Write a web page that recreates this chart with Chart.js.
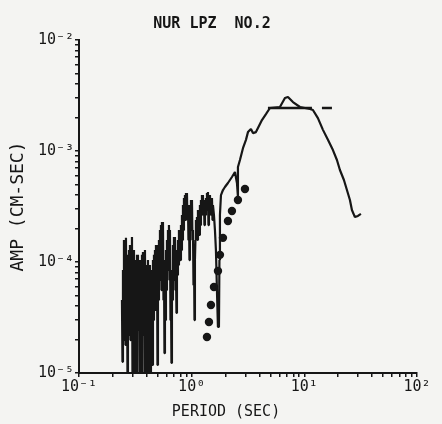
<!DOCTYPE html>
<html>
<head>
<meta charset="utf-8">
<script src="https://cdn.jsdelivr.net/npm/chart.js@4.4.1/dist/chart.umd.min.js"></script>
<style>
  html, body { margin: 0; padding: 0; background: #f4f4f2; }
  #wrap { width: 442px; height: 424px; }
</style>
</head>
<body>
<div id="wrap"><canvas id="amp" width="442" height="424"></canvas></div>
<script>
// spectrum (period in sec, amplitude in cm-sec)
var spectrumPeriod = [
  0.2406, 0.2431, 0.2456, 0.2481, 0.2507, 0.2533, 0.2559, 0.2585, 0.2611, 0.2638,
  0.2665, 0.2692, 0.2720, 0.2748, 0.2777, 0.2806, 0.2834, 0.2863, 0.2892, 0.2922,
  0.2952, 0.2982, 0.3013, 0.3044, 0.3075, 0.3107, 0.3139, 0.3171, 0.3204, 0.3237,
  0.3270, 0.3304, 0.3337, 0.3371, 0.3406, 0.3441, 0.3476, 0.3512, 0.3548, 0.3585,
  0.3621, 0.3658, 0.3696, 0.3734, 0.3772, 0.3811, 0.3850, 0.3890, 0.3930, 0.3970,
  0.4011, 0.4052, 0.4094, 0.4136, 0.4178, 0.4221, 0.4265, 0.4309, 0.4353, 0.4398,
  0.4442, 0.4488, 0.4534, 0.4581, 0.4628, 0.4676, 0.4723, 0.4772, 0.4821, 0.4871,
  0.4920, 0.4971, 0.5022, 0.5074, 0.5125, 0.5178, 0.5231, 0.5285, 0.5339, 0.5394,
  0.5449, 0.5505, 0.5562, 0.5619, 0.5677, 0.5735, 0.5794, 0.5854, 0.5913, 0.5974,
  0.6035, 0.6097, 0.6160, 0.6223, 0.6287, 0.6352, 0.6417, 0.6483, 0.6549, 0.6616,
  0.6684, 0.6753, 0.6822, 0.6892, 0.6963, 0.7035, 0.7107, 0.7180, 0.7253, 0.7328,
  0.7403, 0.7479, 0.7556, 0.7634, 0.7712, 0.7791, 0.7871, 0.7952, 0.8034, 0.8117,
  0.8199, 0.8283, 0.8369, 0.8455, 0.8541, 0.8629, 0.8718, 0.8808, 0.8898, 0.8990,
  0.9081, 0.9175, 0.9269, 0.9364, 0.9460, 0.9557, 0.9655, 0.9754, 0.9855, 0.9957,
  1.006, 1.016, 1.027, 1.038, 1.048, 1.059, 1.069, 1.080, 1.091, 1.102,
  1.114, 1.125, 1.137, 1.149, 1.160, 1.172, 1.184, 1.196, 1.209, 1.221,
  1.234, 1.247, 1.259, 1.272, 1.285, 1.298, 1.312, 1.325, 1.339, 1.353,
  1.367, 1.381, 1.395, 1.409, 1.424, 1.439, 1.453, 1.468, 1.483, 1.498,
  1.514, 1.530, 1.545, 1.577, 1.609, 1.642, 1.676, 1.711, 1.746, 1.764,
  1.782, 1.820, 1.896, 1.974, 2.099, 2.278, 2.422, 2.523, 2.575, 2.575,
  2.683, 2.853, 3.033, 3.160, 3.359, 3.499, 3.720, 3.876, 4.206, 4.563,
  4.952, 6.074, 6.728, 7.154, 7.924, 9.142, 11.21, 11.92, 13.20, 14.63,
  16.20, 17.94, 19.47, 20.70, 22.46, 23.88, 25.39, 26.45, 28.12, 29.90,
  31.78
];
var spectrumAmp = [
  4.55e-5, 1.26e-5, 8.47e-5, 1.98e-5, 1.58e-4, 3.00e-5, 1.28e-4, 1.79e-5, 1.65e-4, 2.44e-5,
  1.16e-4, 1.0e-5, 1.04e-4, 2.20e-5, 1.28e-4, 3.70e-5, 1.42e-4, 1.98e-5, 1.16e-4, 4.55e-5,
  1.68e-4, 1.0e-5, 1.04e-4, 2.44e-5, 1.28e-4, 1.0e-5, 1.04e-4, 2.20e-5, 9.40e-5, 1.0e-5,
  1.16e-4, 2.44e-5, 1.16e-4, 3.70e-5, 9.40e-5, 1.0e-5, 1.04e-4, 1.98e-5, 8.47e-5, 1.0e-5,
  1.16e-4, 3.00e-5, 1.23e-4, 2.20e-5, 1.04e-4, 1.0e-5, 1.28e-4, 2.44e-5, 9.40e-5, 1.0e-5,
  8.47e-5, 1.98e-5, 1.04e-4, 1.0e-5, 6.89e-5, 2.44e-5, 9.40e-5, 1.0e-5, 5.59e-5, 1.98e-5,
  8.47e-5, 1.18e-5, 1.04e-4, 3.00e-5, 1.16e-4, 4.55e-5, 1.28e-4, 3.70e-5, 1.42e-4, 5.59e-5,
  1.42e-4, 1.18e-5, 8.47e-5, 4.55e-5, 1.58e-4, 6.89e-5, 1.94e-4, 8.47e-5, 2.15e-4, 5.59e-5,
  2.29e-4, 1.04e-4, 2.29e-4, 4.55e-5, 1.04e-4, 1.51e-5, 6.89e-5, 3.00e-5, 1.28e-4, 5.59e-5,
  1.58e-4, 8.47e-5, 1.94e-4, 1.04e-4, 2.15e-4, 6.89e-5, 1.94e-4, 3.00e-5, 5.59e-5, 1.23e-5,
  8.47e-5, 4.55e-5, 1.42e-4, 6.89e-5, 1.68e-4, 1.04e-4, 1.68e-4, 5.59e-5, 8.47e-5, 3.47e-5,
  1.28e-4, 7.64e-5, 1.58e-4, 9.40e-5, 1.94e-4, 1.16e-4, 1.75e-4, 1.04e-4, 2.15e-4, 1.28e-4,
  2.65e-4, 1.58e-4, 3.26e-4, 1.94e-4, 3.77e-4, 2.65e-4, 4.01e-4, 2.39e-4, 4.18e-4, 2.94e-4,
  4.18e-4, 2.39e-4, 3.26e-4, 1.58e-4, 2.94e-4, 1.04e-4, 3.26e-4, 1.94e-4, 3.62e-4, 2.15e-4,
  3.62e-4, 1.58e-4, 1.94e-4, 6.21e-5, 1.28e-4, 3.00e-5, 1.04e-4, 1.58e-4, 2.39e-4, 1.75e-4,
  2.54e-4, 1.58e-4, 2.94e-4, 1.94e-4, 2.65e-4, 1.75e-4, 3.26e-4, 2.15e-4, 3.62e-4, 2.65e-4,
  4.01e-4, 2.94e-4, 4.01e-4, 2.65e-4, 3.62e-4, 2.15e-4, 3.26e-4, 2.65e-4, 3.77e-4, 2.94e-4,
  4.18e-4, 3.26e-4, 4.27e-4, 2.15e-4, 3.62e-4, 2.65e-4, 4.01e-4, 2.94e-4, 3.77e-4, 2.65e-4,
  3.77e-4, 2.39e-4, 3.26e-4, 2.65e-4, 1.94e-4, 1.28e-4, 5.59e-5, 2.60e-5, 2.60e-5, 1.04e-4,
  2.65e-4, 4.01e-4, 4.45e-4, 4.74e-4, 5.15e-4, 5.83e-4, 6.47e-4, 5.15e-4, 3.85e-4, 7.18e-4,
  8.30e-4, 1.06e-3, 1.26e-3, 1.48e-3, 1.58e-3, 1.45e-3, 1.48e-3, 1.61e-3, 1.90e-3, 2.15e-3,
  2.44e-3, 2.49e-3, 3.00e-3, 3.07e-3, 2.76e-3, 2.49e-3, 2.39e-3, 2.34e-3, 1.98e-3, 1.55e-3,
  1.26e-3, 1.02e-3, 8.30e-4, 6.74e-4, 5.48e-4, 4.45e-4, 3.62e-4, 2.94e-4, 2.54e-4, 2.60e-4,
  2.71e-4
];

// filled circles
var dotPeriod = [1.367, 1.424, 1.483, 1.577, 1.712, 1.783, 1.896, 2.099, 2.278, 2.575, 2.972];
var dotAmp = [2.11e-5, 2.88e-5, 4.10e-5, 5.95e-5, 8.30e-5, 1.16e-4, 1.65e-4, 2.34e-4, 2.88e-4, 3.62e-4, 4.55e-4];

// dashed flat level
var dashPeriod = [4.753, 17.58];
var dashAmp = [2.44e-3, 2.44e-3];

var xDecades = [0.1, 1, 10, 100];
var xTickLabels = ['10\u207B\u00B9', '10\u2070', '10\u00B9', '10\u00B2'];
var yDecades = [1e-5, 1e-4, 1e-3, 1e-2];
var yTickLabels = ['10\u207B\u2075', '10\u207B\u2074', '10\u207B\u00B3', '10\u207B\u00B2'];

var titleText = 'NUR LPZ  NO.2';
var xTitle = 'PERIOD (SEC)';
var yTitle = 'AMP (CM-SEC)';

var ink = '#161616';
var mono = '"DejaVu Sans Mono", monospace';

function pairs(xs, ys) {
    return xs.map(function(x, i) { return { x: x, y: ys[i] }; });
}

// 1..9 marks in every decade
function logTicks(decades) {
    var out = [];
    for (var d = 0; d < decades.length - 1; d++) {
        for (var k = 1; k < 10; k++) out.push({ value: k * decades[d] });
    }
    out.push({ value: decades[decades.length - 1] });
    return out;
}

function decadeLabel(v, decades, labels) {
    for (var i = 0; i < decades.length; i++) {
        if (Math.abs(v - decades[i]) < decades[i] * 1e-6) return labels[i];
    }
    return '';
}

var textPlugin = {
    id: 'plotText',
    afterDraw: function(chart) {
        var c = chart.ctx;
        c.save();
        c.fillStyle = ink;
        c.textAlign = 'center';
        c.textBaseline = 'alphabetic';
        c.font = 'bold 15px ' + mono;
        c.fillText(titleText, 212, 28);
        c.font = '15px ' + mono;
        c.fillText(xTitle, 226, 416);
        c.restore();
    }
};

var ctx = document.getElementById('amp').getContext('2d');
var ampChart = new Chart(ctx, {
    type: 'scatter',
    data: {
        datasets: [{
            label: 'spectrum',
            data: pairs(spectrumPeriod, spectrumAmp),
            showLine: true,
            borderColor: ink,
            borderWidth: 2.2,
            borderJoinStyle: 'bevel',
            pointRadius: 0,
            tension: 0
        }, {
            label: 'level',
            data: pairs(dashPeriod, dashAmp),
            showLine: true,
            borderColor: ink,
            borderWidth: 2.6,
            borderDash: [44, 10],
            pointRadius: 0
        }, {
            label: 'points',
            data: pairs(dotPeriod, dotAmp),
            showLine: false,
            pointRadius: 4.2,
            pointBackgroundColor: ink,
            pointBorderWidth: 0
        }]
    },
    options: {
        responsive: false,
        animation: false,
        layout: { padding: { top: 40, right: 25, left: 0, bottom: 0 } },
        plugins: {
            legend: { display: false },
            tooltip: { enabled: false }
        },
        scales: {
            x: {
                type: 'logarithmic',
                min: 0.1,
                max: 100,
                afterBuildTicks: function(scale) { scale.ticks = logTicks(xDecades); },
                afterFit: function(scale) { scale.height = 51; },
                grid: { drawOnChartArea: false, tickLength: 4, color: ink, lineWidth: 1.5 },
                border: { color: ink, width: 2 },
                ticks: {
                    autoSkip: false,
                    maxRotation: 0,
                    padding: 1,
                    color: ink,
                    font: { family: mono, size: 15 },
                    callback: function(v) { return decadeLabel(v, xDecades, xTickLabels); }
                }
            },
            y: {
                type: 'logarithmic',
                min: 1e-5,
                max: 1e-2,
                afterBuildTicks: function(scale) { scale.ticks = logTicks(yDecades); },
                afterFit: function(scale) { scale.width = 79; },
                grid: { drawOnChartArea: false, tickLength: 4, color: ink, lineWidth: 1.5 },
                border: { color: ink, width: 2 },
                title: {
                    display: true,
                    text: yTitle,
                    color: ink,
                    font: { family: mono, size: 18 },
                    padding: { top: 8, bottom: 0 }
                },
                ticks: {
                    autoSkip: false,
                    padding: 1,
                    color: ink,
                    font: { family: mono, size: 15 },
                    callback: function(v) { return decadeLabel(v, yDecades, yTickLabels); }
                }
            }
        }
    },
    plugins: [textPlugin]
});
</script>
</body>
</html>
